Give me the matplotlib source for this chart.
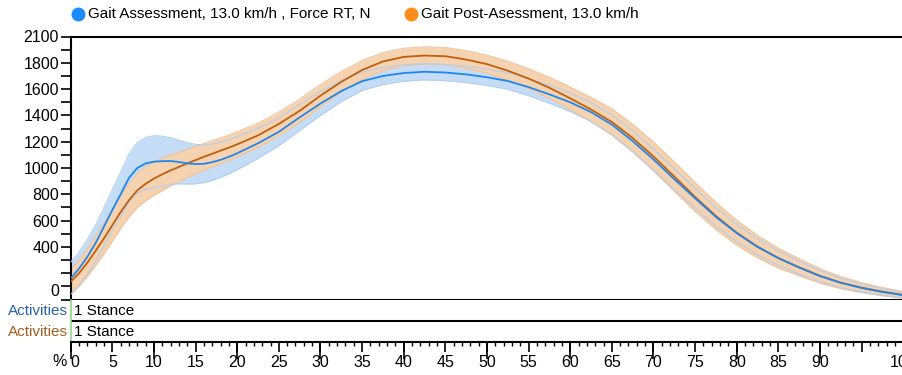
import numpy as np
import matplotlib
matplotlib.use("Agg")
import matplotlib.pyplot as plt

plt.rcParams["font.family"] = ["Liberation Sans", "DejaVu Sans"]
plt.rcParams["font.size"] = 11

# percent of stance (finer steps where the curves bend sharply)
pct = [0, 1, 2, 3, 4, 5, 6, 7, 8, 9, 10, 11, 12, 13, 14, 15, 16, 17, 18, 19, 20,
       22.5, 25, 27.5, 30, 32.5, 35, 37.5, 40, 42.5, 45, 47.5, 50, 52.5, 55, 57.5,
       60, 62.5, 65, 67.5, 70, 72.5, 75, 77.5, 80, 82.5, 85, 87.5, 90, 92.5, 95,
       97.5, 100]

# Gait Assessment (blue): mean force and half band width, N
assess_mean = [160, 235, 325, 430, 555, 680, 800, 925, 1000, 1035, 1048, 1052,
               1053, 1046, 1035, 1030, 1032, 1044, 1062, 1085, 1112,
               1188, 1275, 1385, 1490, 1585, 1660, 1700, 1722, 1732, 1726,
               1712, 1690, 1662, 1615, 1560, 1500, 1425, 1330, 1205, 1065,
               915, 770, 628, 505, 400, 315, 243, 178, 127, 88, 57, 33]
assess_sd = [122, 125, 130, 137, 145, 155, 168, 182, 193, 198, 198, 190,
             178, 166, 157, 150, 144, 138, 133, 129, 125,
             115, 105, 100, 90, 80, 70, 65, 62, 62, 62,
             62, 62, 63, 65, 68, 70, 72, 75, 77, 78,
             78, 75, 70, 65, 60, 55, 48, 42, 36, 30, 25, 20]

# Gait Post-Assessment (orange)
post_mean = [135, 200, 280, 370, 465, 565, 665, 755, 830, 880, 920, 952,
             982, 1008, 1035, 1060, 1085, 1108, 1132, 1155, 1180,
             1248, 1335, 1435, 1550, 1655, 1745, 1810, 1845, 1855, 1850,
             1825, 1790, 1740, 1680, 1610, 1530, 1445, 1350, 1228, 1088,
             935, 780, 635, 508, 402, 315, 245, 180, 128, 90, 60, 35]
post_sd = [95, 100, 106, 112, 117, 121, 125, 128, 130, 130, 128, 124,
           118, 112, 107, 104, 101, 99, 97, 96, 95,
           92, 90, 88, 85, 78, 72, 68, 66, 66, 66,
           67, 68, 72, 75, 80, 85, 92, 100, 105, 110,
           112, 110, 103, 95, 85, 75, 65, 55, 46, 38, 31, 25]

y_ticks = [0, 400, 600, 800, 1000, 1200, 1400, 1600, 1800, 2000]
y_labels = ["0", "400", "600", "800", "1000", "1200", "1400", "1600", "1800", "2100"]
x_ticks = list(range(0, 101, 5))
x_labels = [str(v) if v != 95 else "" for v in x_ticks]

W, H = 902, 375
fig = plt.figure(figsize=(W / 100, H / 100), dpi=100)

x0 = 70.7
x1 = 903.2
ax = fig.add_axes([x0 / W, 1 - 299.5 / H, (x1 - x0) / W, (299.5 - 36.5) / H])
act = fig.add_axes([x0 / W, 1 - 341.5 / H, (x1 - x0) / W, (341.5 - 299.5) / H])

am = np.array(assess_mean)
asd = np.array(assess_sd)
pm = np.array(post_mean)
psd = np.array(post_sd)

ax.fill_between(pct, am - asd, am + asd, color="#c4dcf5", lw=0, zorder=1)
ax.fill_between(pct, pm - psd, pm + psd, color="#f5d2b0", lw=0, zorder=2)
ax.plot(pct, pm + psd, color="#f0c49c", lw=0.8, zorder=2)
ax.plot(pct, pm - psd, color="#f0c49c", lw=0.8, zorder=2)
ax.plot(pct, am + asd, color="#b4cfee", lw=0.8, zorder=3)
ax.plot(pct, am - asd, color="#b4cfee", lw=0.8, zorder=3)
ax.plot(pct, pm, color="#c0600c", lw=1.3, zorder=4)
ax.plot(pct, am, color="#1f87f0", lw=1.3, zorder=5)

ax.set_xlim(0, 100)
ax.set_ylim(0, 2000)
ax.set_xticks([])
ax.set_yticks(y_ticks, y_labels)
ax.set_yticks(range(0, 2001, 100), minor=True)
ax.tick_params(axis="y", which="both", direction="out", length=7, width=1.2, pad=1.5,
               labelsize=11.5)
for lab in ax.get_yticklabels():
    if lab.get_text() == "0":
        lab.set_va("bottom")
for s in ["left", "top", "bottom"]:
    ax.spines[s].set_linewidth(1.5)
ax.spines["right"].set_visible(False)

# activities rows
act.set_xlim(0, 100)
act.set_ylim(0, 2)
act.set_yticks([])
act.axhline(1, color="black", lw=1.5)
act.spines["right"].set_visible(False)
act.spines["top"].set_visible(False)
act.spines["bottom"].set_linewidth(1.5)
act.spines["left"].set_color("#8ed88e")
act.spines["left"].set_linewidth(1.2)
act.text(0.4, 1.45, "1 Stance", va="center", ha="left", fontsize=11)
act.text(0.4, 0.45, "1 Stance", va="center", ha="left", fontsize=11)
act.text(-0.3, 1.45, "Activities", va="center", ha="right", color="#2b62a3", fontsize=11)
act.text(-0.3, 0.45, "Activities", va="center", ha="right", color="#a35f1e", fontsize=11)

act.set_xticks(x_ticks, x_labels)
act.set_xticks(range(0, 101), minor=True)
act.tick_params(axis="x", which="major", length=7, width=1.2, pad=3, labelsize=11.5)
act.tick_params(axis="x", which="minor", length=3, width=1.0)
xl = act.get_xticklabels()
xl[0].set_ha("left")

sec = act.secondary_xaxis("bottom")
sec.set_xticks(range(0, 101, 10), [""] * 11)
sec.tick_params(length=12, width=1.2)
sec.spines["bottom"].set_visible(False)

fig.text(67 / W, 1 - 362 / H, "%", ha="right", va="center", fontsize=11.5)

# legend
fig.lines.append(plt.Line2D([78 / W], [1 - 14 / H], marker="o", ms=9, color="#1a8cff",
                            transform=fig.transFigure))
fig.text(88 / W, 1 - 14 / H, "Gait Assessment, 13.0 km/h , Force RT, N", va="center", fontsize=11)
fig.lines.append(plt.Line2D([411 / W], [1 - 14 / H], marker="o", ms=9, color="#ff8c1a",
                            transform=fig.transFigure))
fig.text(421 / W, 1 - 14 / H, "Gait Post-Asessment, 13.0 km/h", va="center", fontsize=11)

fig.savefig("out.png", dpi=100)
